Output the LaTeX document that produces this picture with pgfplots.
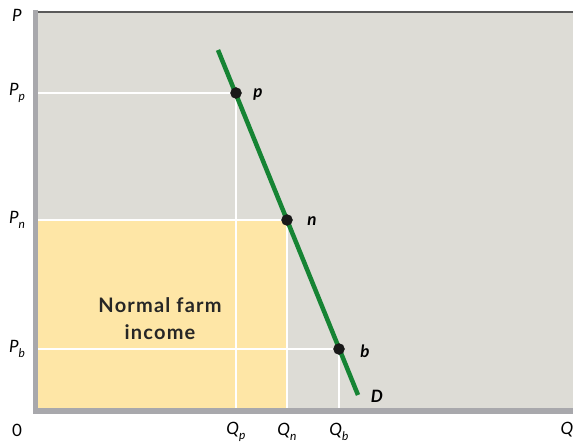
\documentclass[border=0pt]{standalone}
\usepackage{pgfplots}
\pgfplotsset{compat=1.18}
\usepackage{fontspec}
\setmainfont{Lato}
\definecolor{bgc}{RGB}{221,220,214}
\definecolor{farm}{RGB}{254,230,166}
\definecolor{dgreen}{RGB}{22,132,52}
\definecolor{bar}{RGB}{168,168,172}
\definecolor{topline}{RGB}{90,90,90}
\newcommand{\lab}[2]{\itshape #1\raisebox{-0.6ex}{\fontsize{12}{12}\selectfont\itshape #2}}
\tikzset{lbl/.style={font=\fontsize{17}{19}\selectfont}}
\begin{document}
\begin{tikzpicture}
\path[use as bounding box] (-37pt,-37pt) rectangle (538pt,408pt);
\begin{axis}[
    scale only axis,
    x=1pt, y=1pt,
    xmin=0, xmax=536, ymin=0, ymax=396,
    hide axis,
    clip=false,
    axis background/.style={fill=bgc},
]
% normal farm income area
\addplot[fill=farm, draw=none] coordinates {(0,0) (250,0) (250,188) (0,188)} \closedcycle;
% white guide lines
\addplot[white, line width=1.3pt] coordinates {(0,315) (199,315) (199,0)};
\addplot[white, line width=1.3pt] coordinates {(0,188) (250,188) (250,0)};
\addplot[white, line width=1.3pt] coordinates {(0,59) (302,59) (302,0)};
% demand curve
\addplot[dgreen, line width=4.5pt] coordinates {(181,358) (321,13)};
% points
\addplot[only marks, mark=*, mark size=5.5pt, color=black!90] coordinates {(199,315) (250,188) (302,59)};
% frame
\draw[topline, line width=2pt] (axis cs:-4,396) -- (axis cs:536,396);
\draw[bar, line width=5pt] (axis cs:-1.5,398) -- (axis cs:-1.5,-3);
\draw[bar, line width=5.5pt] (axis cs:-4,-2.75) -- (axis cs:536,-2.75);
% labels
\node[lbl] at (axis cs:-20,393) {\itshape P};
\node[lbl] at (axis cs:-20,315) {\lab{P}{p}};
\node[lbl] at (axis cs:-20,188) {\lab{P}{n}};
\node[lbl] at (axis cs:-20,59) {\lab{P}{b}};
\node[lbl] at (axis cs:-20,-22) {0};
\node[lbl] at (axis cs:199,-24) {\lab{Q}{p}};
\node[lbl] at (axis cs:250,-24) {\lab{Q}{n}};
\node[lbl] at (axis cs:302,-24) {\lab{Q}{b}};
\node[lbl] at (axis cs:530,-22) {\itshape Q};
\node[lbl] at (axis cs:221,314) {\bfseries\itshape p};
\node[lbl] at (axis cs:275,187) {\bfseries\itshape n};
\node[lbl] at (axis cs:328,57) {\bfseries\itshape b};
\node[lbl] at (axis cs:340,12) {\bfseries\itshape D};
\node[font=\fontsize{20}{27}\selectfont\bfseries\addfontfeatures{LetterSpace=6}, align=center, text=black!85] at (axis cs:123,89) {Normal farm\\income};
\end{axis}
\end{tikzpicture}
\end{document}
